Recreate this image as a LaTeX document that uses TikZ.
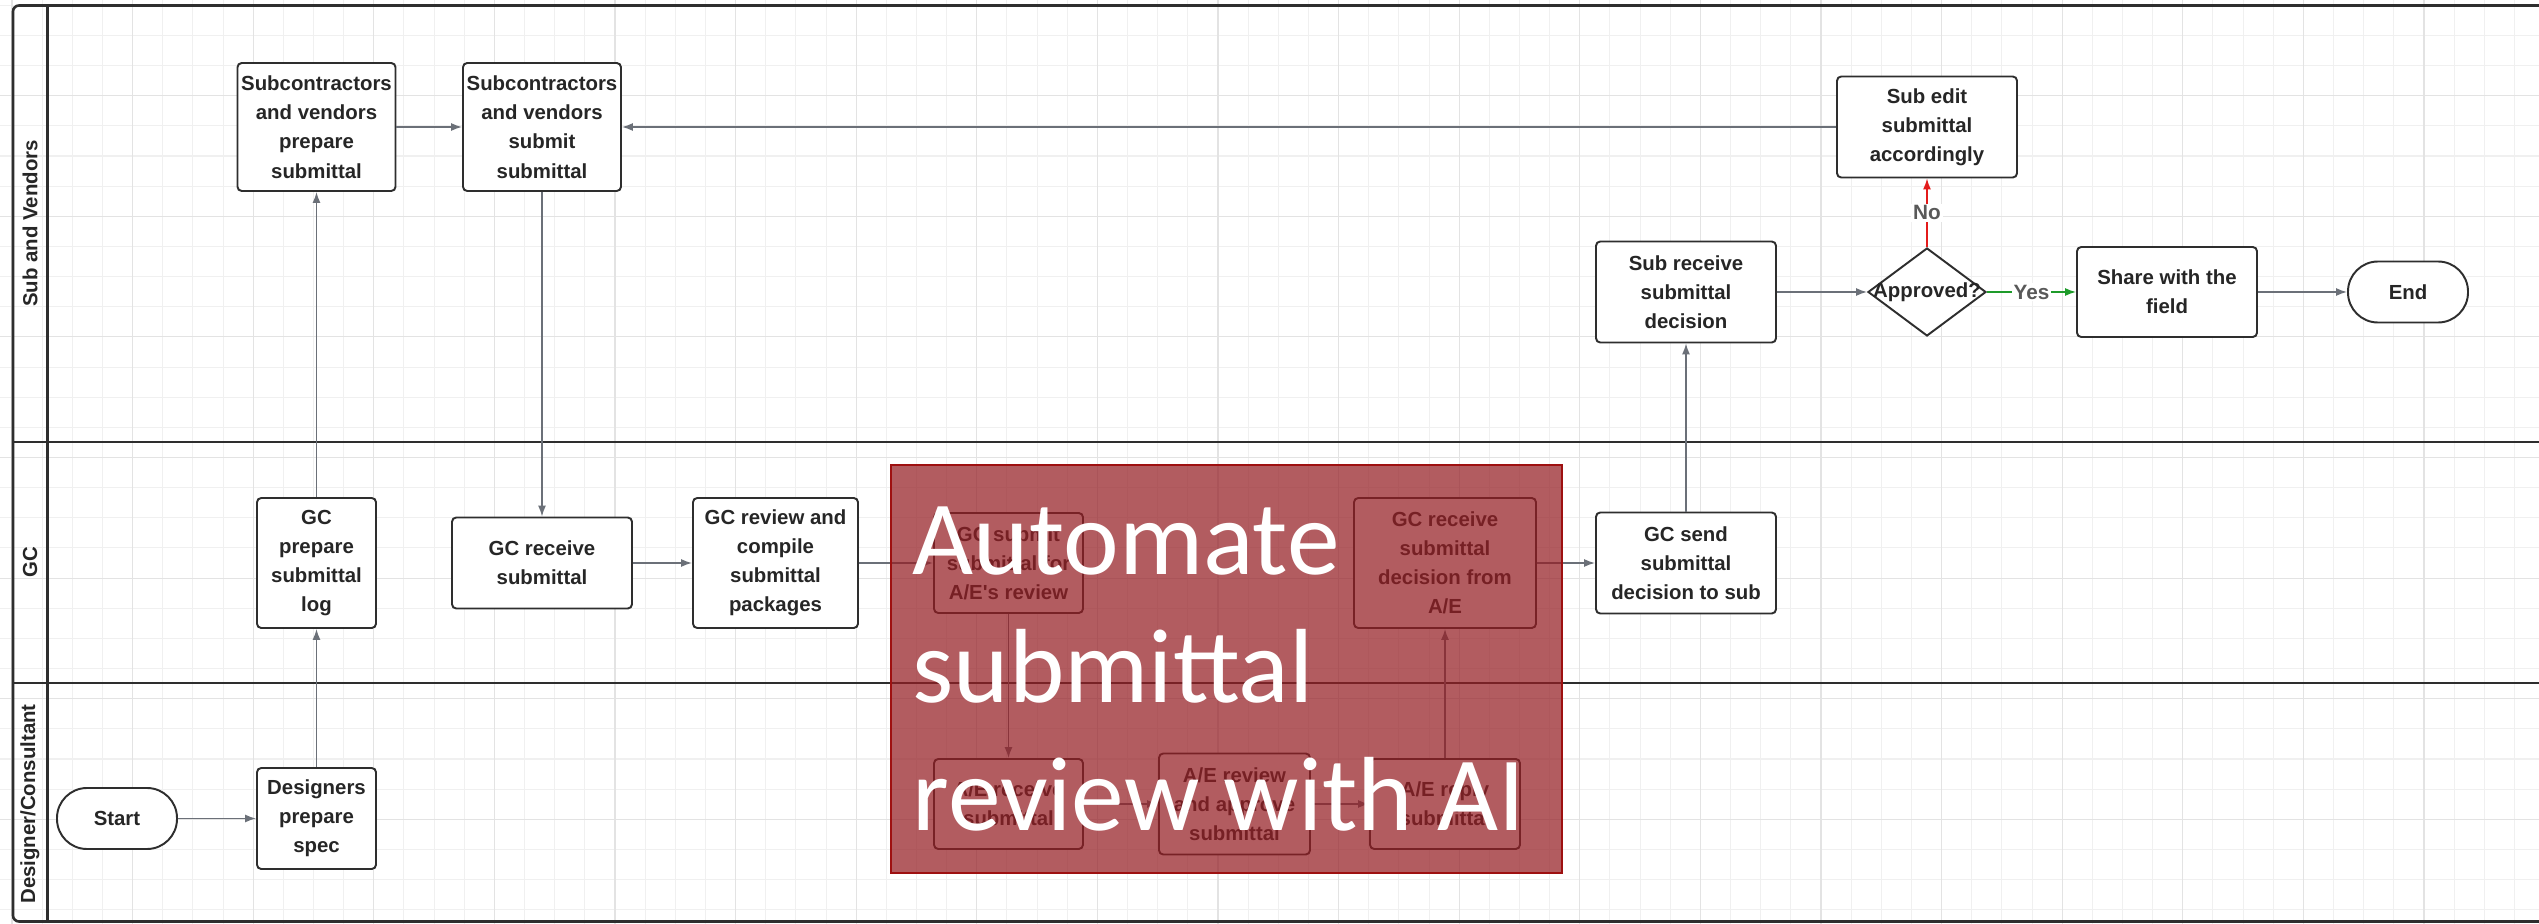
\documentclass[tikz,border=0pt]{standalone}
\usepackage{fontspec}
\usepackage{xcolor}
\usepackage{tikz}
\usetikzlibrary{arrows.meta, shapes.geometric}
\tikzset{>={Latex[length=1.1mm,width=0.8mm]}}
\newfontfamily\boxfont{Liberation Sans}
\newfontfamily\bannerfont{Carlito}
\definecolor{linegray}{HTML}{6B7078}
\definecolor{framegray}{HTML}{2E2E2E}
\definecolor{gridminor}{HTML}{F0F0F0}
\definecolor{gridmajor}{HTML}{E3E3E3}
\definecolor{yesgreen}{HTML}{1E9B2A}
\definecolor{nored}{HTML}{E31B1B}
\definecolor{bannerfill}{HTML}{951E24}
\definecolor{banneredge}{HTML}{9E1010}
\def\poolleft{0.13}
\def\poolright{25.5}
\def\pooltop{-0.055}
\def\poolbottom{-9.215}
\def\labelcol{0.475}
\def\laneonebottom{-4.42}
\def\lanetwobottom{-6.83}
\def\rowsub{-2.92}
\def\rowgc{-5.63}

\begin{document}
\begin{tikzpicture}[
  task/.style={draw=framegray, line width=0.55pt, rounded corners=1.2pt, fill=white,
    align=center, text=black!85, inner sep=1pt,
    font=\boxfont\bfseries\fontsize{5.8}{8.3}\selectfont},
  terminal/.style={task, rounded corners=0.3cm, minimum width=1.2cm, minimum height=0.61cm},
  decision/.style={diamond, draw=framegray, line width=0.55pt, fill=white, inner sep=0pt,
    minimum width=1.18cm, minimum height=0.88cm},
  flow/.style={->, draw=linegray, line width=0.4pt},
  lanelabel/.style={rotate=90, text=black!85, font=\boxfont\bfseries\fontsize{5.8}{7}\selectfont},
  branch/.style={fill=white, inner sep=0.5pt, text=black!65,
    font=\boxfont\bfseries\fontsize{5.9}{7}\selectfont},
  lane/.style={draw=framegray, line width=0.75pt}
]
\useasboundingbox (0,0) rectangle (25.39,-9.24);
\clip (0,0) rectangle (25.39,-9.24);
\fill[white] (0,0) rectangle (25.39,-9.24);

% Grid
\begin{scope}[shift={(0.12,-0.0525)}]
\draw[gridminor, line width=0.3pt, step=0.3015] (-0.3015,-9.3) grid (25.4,0.1);
\end{scope}
\begin{scope}[shift={(0.12,-0.957)}]
\draw[gridmajor, line width=0.3pt, step=1.206] (-1.3,-8.4) grid (25.4,1.0);
\end{scope}

% Pool and lanes
\draw[lane, rounded corners=0.06cm] (\poolright,\pooltop) -- (\poolleft,\pooltop) -- (\poolleft,\poolbottom) -- (\poolright,\poolbottom);
\draw[lane] (\labelcol,\pooltop) -- (\labelcol,\poolbottom);
\draw[lane] (\poolleft,\laneonebottom) -- (\poolright,\laneonebottom);
\draw[lane] (\poolleft,\lanetwobottom) -- (\poolright,\lanetwobottom);

\node[lanelabel] (lanesub) at (0.30,-2.235) {Sub and Vendors};
\node[lanelabel] (lanegc) at (0.30,-5.625) {GC};
\node[lanelabel] (lanedesign) at (0.30,-8.04) {Designer/Consultant};

% Sub and Vendors
\node[task, minimum width=1.58cm, minimum height=1.28cm] (subprep) at (3.165,-1.27) {Subcontractors\\and vendors\\prepare\\submittal};
\node[task, minimum width=1.58cm, minimum height=1.28cm] (subsubmit) at (5.42,-1.27) {Subcontractors\\and vendors\\submit\\submittal};
\node[task, minimum width=1.80cm, minimum height=1.01cm] (subedit) at (19.27,-1.27) {Sub edit\\submittal\\accordingly};
\node[task, minimum width=1.80cm, minimum height=1.01cm] (subreceive) at (16.86,\rowsub) {Sub receive\\submittal\\decision};
\node[decision, label={[text=black!85, font=\boxfont\bfseries\fontsize{5.8}{7}\selectfont]center:Approved?}] (approved) at (19.27,\rowsub) {};
\node[task, minimum width=1.80cm, minimum height=0.90cm] (share) at (21.67,\rowsub) {Share with the\\field};
\node[terminal] (finish) at (24.08,\rowsub) {End};

% GC
\node[task, minimum width=1.19cm, minimum height=1.30cm] (gcprep) at (3.165,\rowgc) {GC\\prepare\\submittal\\log};
\node[task, minimum width=1.80cm, minimum height=0.91cm] (gcreceive) at (5.42,\rowgc) {GC receive\\submittal};
\node[task, minimum width=1.65cm, minimum height=1.30cm] (gccompile) at (7.755,\rowgc) {GC review and\\compile\\submittal\\packages};
\node[task, minimum width=1.49cm, minimum height=1.00cm] (gcsubmit) at (10.085,\rowgc) {GC submit\\submittal for\\A/E's review};
\node[task, minimum width=1.82cm, minimum height=1.30cm] (gcdecision) at (14.45,\rowgc) {GC receive\\submittal\\decision from\\A/E};
\node[task, minimum width=1.80cm, minimum height=1.01cm] (gcsend) at (16.86,\rowgc) {GC send\\submittal\\decision to sub};

% Designer/Consultant
\node[terminal] (start) at (1.17,-8.185) {Start};
\node[task, minimum width=1.19cm, minimum height=1.01cm] (spec) at (3.165,-8.185) {Designers\\prepare\\spec};
\node[task, minimum width=1.49cm, minimum height=0.90cm] (aereceive) at (10.085,-8.04) {A/E receive\\submittal};
\node[task, minimum width=1.51cm, minimum height=1.01cm] (aereview) at (12.345,-8.04) {A/E review\\and approve\\submittal};
\node[task, minimum width=1.50cm, minimum height=0.90cm] (aereply) at (14.45,-8.04) {A/E reply\\submittal};

% Connectors
\draw[flow] (start) -- (spec);
\draw[flow] (spec) -- (gcprep);
\draw[flow] (gcprep) -- (subprep);
\draw[flow] (subprep) -- (subsubmit);
\draw[flow] (subsubmit) -- (gcreceive);
\draw[flow] (gcreceive) -- (gccompile);
\draw[flow] (gccompile) -- (gcsubmit);
\draw[flow] (gcsubmit) -- (aereceive);
\draw[flow] (aereceive) -- (aereview);
\draw[flow] (aereview) -- (aereply);
\draw[flow] (aereply) -- (gcdecision);
\draw[flow] (gcdecision) -- (gcsend);
\draw[flow] (gcsend) -- (subreceive);
\draw[flow] (subreceive) -- (approved);
\draw[flow, draw=yesgreen] (approved) -- node[branch] {Yes} (share);
\draw[flow, draw=nored] (approved) -- node[branch] {No} (subedit);
\draw[flow] (share) -- (finish);
\draw[flow] (subedit) -- (subsubmit);

% Overlay
\draw[banneredge, line width=0.6pt, fill=bannerfill, fill opacity=0.72] (8.91,-4.65) rectangle (15.62,-8.73);
\node[anchor=north west, inner sep=0pt, align=left, text=white,
  font=\bannerfont\fontsize{30}{36.4}\selectfont] (banner) at (9.12,-5.06) {Automate\\submittal\\review with AI};

\end{tikzpicture}
\end{document}
